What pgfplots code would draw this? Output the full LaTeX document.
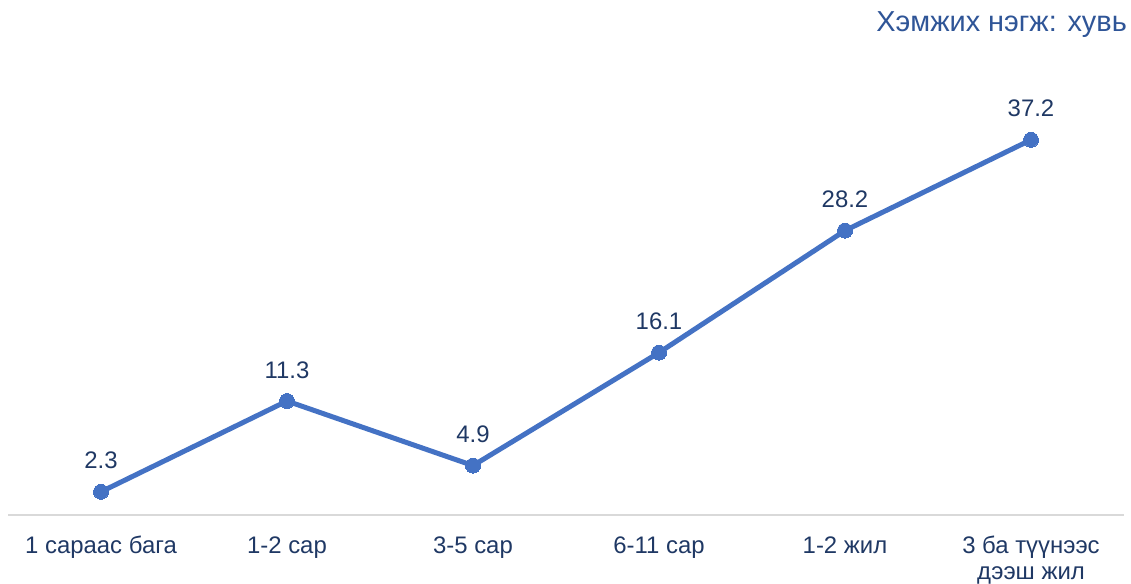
\documentclass[border=0pt]{standalone}
\usepackage{fontspec}
\setmainfont{Liberation Sans}
\usepackage{pgfplots}
\pgfplotsset{compat=1.18}
\definecolor{lineblue}{HTML}{4472C4}
\definecolor{lab}{HTML}{1F3864}
\definecolor{ttl}{HTML}{2F5597}
\definecolor{axg}{HTML}{D9D9D9}
\begin{document}
\begin{tikzpicture}[x=1bp,y=1bp]
\path[use as bounding box] (0,0) rectangle (1131,584);
\node[anchor=base east, text=ttl, font=\fontsize{29}{32}\selectfont, inner sep=0pt] at (1127,552) {Хэмжих нэгж: хувь};
\begin{axis}[
  at={(8bp,69bp)}, anchor=south west,
  scale only axis, width=1116bp, height=475bp,
  xmin=-0.5, xmax=5.5, ymin=0, ymax=47.1,
  axis x line*=bottom, axis y line=none,
  x axis line style={axg, line width=2bp},
  xtick={0,1,2,3,4,5},
  xticklabels={1 сараас бага, 1-2 сар, 3-5 сар, 6-11 сар, 1-2 жил, {\begin{tabular}[t]{@{}c@{}}3 ба түүнээс\\дээш жил\end{tabular}}},
  xtick style={draw=none},
  xticklabel style={font=\fontsize{24}{26}\selectfont, text=lab, anchor=base, yshift=-39bp, inner sep=0pt},
  ytick=\empty,
  clip=false,
  nodes near coords,
  point meta=y,
  /pgf/number format/.cd, fixed, fixed zerofill, precision=1, assume math mode=true,
  /pgfplots/.cd,
  every node near coord/.append style={font=\fontsize{24}{26}\selectfont, text=lab, anchor=base, yshift=23bp, inner sep=0pt},
]
\addplot[color=lineblue, line width=5bp, mark=*, mark size=7.5bp, mark options={fill=lineblue, draw=lineblue, line width=0pt}]
  coordinates {(0,2.3) (1,11.3) (2,4.9) (3,16.1) (4,28.2) (5,37.2)};
\end{axis}
\end{tikzpicture}
\end{document}
